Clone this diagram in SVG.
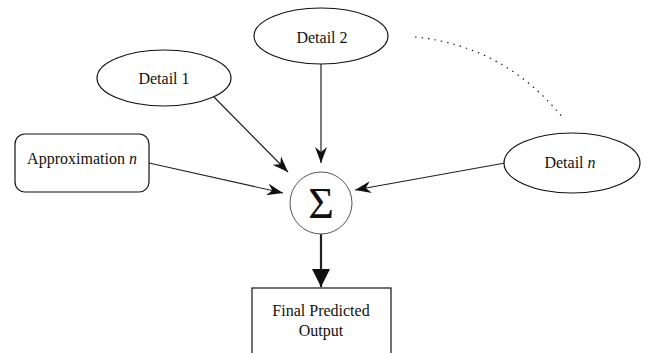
<svg xmlns="http://www.w3.org/2000/svg" width="645" height="353" viewBox="0 0 645 353">
<defs>
<style>
.shape{fill:#fff;stroke:#111;stroke-width:1.2}
.lbl{font-family:"Liberation Serif","Times New Roman",serif;font-size:16px;fill:#111;text-anchor:middle}
.edge{fill:none;stroke:#222;stroke-width:1.2}
</style>
<marker id="vee" viewBox="0 0 16 12" refX="16" refY="6" markerWidth="16" markerHeight="12" markerUnits="userSpaceOnUse" orient="auto">
<path d="M0,0 L16,6 L0,12 L5,6 z" fill="#111"/>
</marker>
<marker id="tri" viewBox="0 0 18 18" refX="18" refY="9" markerWidth="18" markerHeight="18" markerUnits="userSpaceOnUse" orient="auto">
<path d="M0,0 L18,9 L0,18 z" fill="#111"/>
</marker>
</defs>
<rect width="645" height="353" fill="#fff"/>
<g id="connectors">
<line class="edge" x1="214" y1="97" x2="288" y2="172" marker-end="url(#vee)"/>
<line class="edge" x1="321" y1="64" x2="321" y2="163" marker-end="url(#vee)"/>
<line class="edge" x1="149" y1="163" x2="283" y2="193" marker-end="url(#vee)"/>
<line class="edge" x1="505" y1="163" x2="355" y2="190" marker-end="url(#vee)"/>
<line class="edge" x1="321" y1="234" x2="321" y2="287" style="stroke-width:2.2" marker-end="url(#tri)"/>
<path class="edge" d="M415,37 Q505,46 563,118" stroke-dasharray="1.5 5"/>
</g>
<g id="detail1">
<ellipse class="shape" cx="164" cy="78" rx="67" ry="28"/>
<text class="lbl" x="164" y="84">Detail 1</text>
</g>
<g id="detail2">
<ellipse class="shape" cx="321" cy="36" rx="67" ry="28"/>
<text class="lbl" x="322" y="43">Detail 2</text>
</g>
<g id="detailn">
<ellipse class="shape" cx="572" cy="163" rx="68" ry="30"/>
<text class="lbl" x="570" y="168">Detail <tspan font-style="italic">n</tspan></text>
</g>
<g id="approximation">
<rect class="shape" x="15" y="134" width="134" height="58" rx="10" ry="10"/>
<text class="lbl" x="82" y="164">Approximation <tspan font-style="italic">n</tspan></text>
</g>
<g id="sum">
<circle cx="321" cy="203" r="31" fill="#fff" stroke="#555" stroke-width="1"/>
<text x="321" y="218" style="font-family:'Liberation Serif','Times New Roman',serif;font-size:44px;fill:#111;text-anchor:middle">Σ</text>
</g>
<g id="output">
<rect class="shape" x="252" y="288" width="139" height="80"/>
<text class="lbl" x="321" y="316">Final Predicted</text>
<text class="lbl" x="321" y="336">Output</text>
</g>
</svg>
